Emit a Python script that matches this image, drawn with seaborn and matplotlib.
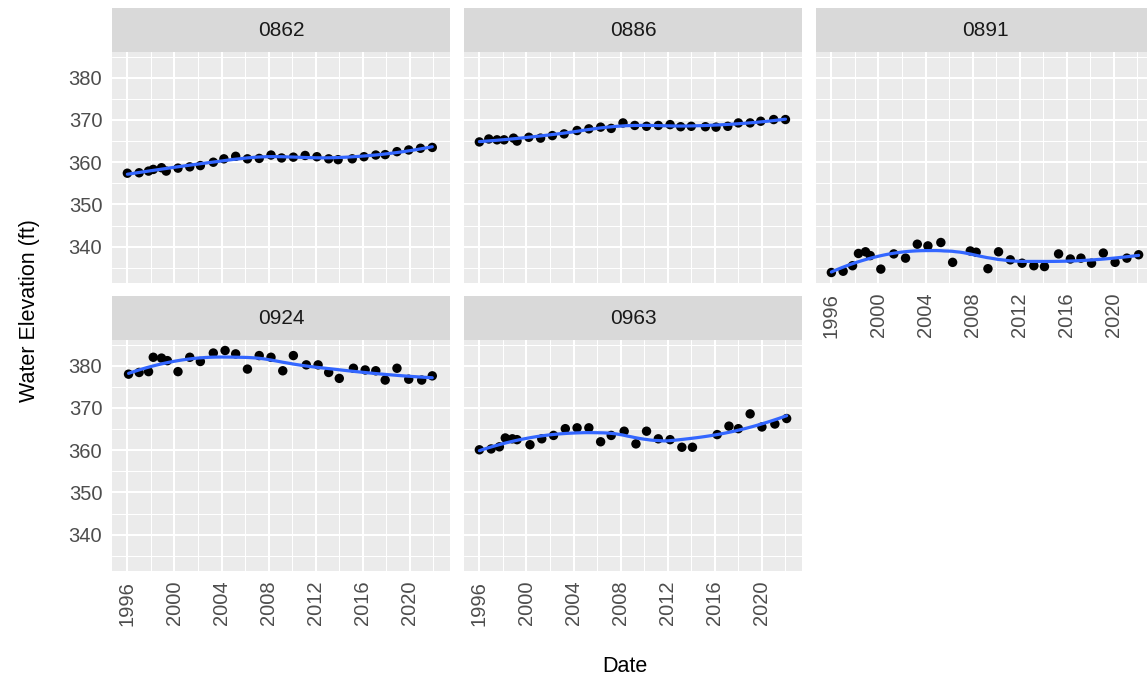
import numpy as np
import pandas as pd
import matplotlib
matplotlib.use("Agg")
import matplotlib.pyplot as plt
from matplotlib.patches import Rectangle
from matplotlib.ticker import FixedLocator
import seaborn as sns

# ---- measurements per well (decimal year, water elevation in ft) ----
wells = ["0862", "0886", "0891", "0924", "0963"]

year_0862 = [1996.0, 1997.0, 1997.8, 1998.2, 1998.9, 1999.3, 2000.3, 2001.3, 2002.2, 2003.3,
             2004.2, 2005.2, 2006.2, 2007.2, 2008.2, 2009.1, 2010.1, 2011.1, 2012.1, 2013.1,
             2013.9, 2015.1, 2016.1, 2017.1, 2017.9, 2018.9, 2019.9, 2020.9, 2021.9]
elev_0862 = [357.4, 357.5, 357.9, 358.3, 358.7, 357.9, 358.6, 358.9, 359.2, 360.0,
             360.8, 361.4, 360.8, 360.9, 361.7, 361.0, 361.2, 361.6, 361.3, 360.8,
             360.6, 360.8, 361.3, 361.7, 361.8, 362.5, 362.9, 363.3, 363.5]

year_0886 = [1996.0, 1996.8, 1997.5, 1998.1, 1998.9, 1999.2, 2000.2, 2001.2, 2002.2, 2003.2,
             2004.3, 2005.3, 2006.3, 2007.2, 2008.2, 2009.2, 2010.2, 2011.2, 2012.2, 2013.1,
             2014.0, 2015.2, 2016.1, 2017.1, 2018.0, 2019.0, 2019.9, 2021.0, 2022.0]
elev_0886 = [364.8, 365.5, 365.3, 365.3, 365.7, 365.0, 365.9, 365.7, 366.3, 366.7,
             367.5, 367.9, 368.3, 368.0, 369.3, 368.7, 368.5, 368.7, 368.9, 368.4,
             368.5, 368.4, 368.3, 368.5, 369.3, 369.3, 369.7, 370.1, 370.1]

year_0891 = [1996.0, 1997.0, 1997.8, 1998.3, 1998.9, 1999.3, 2000.2, 2001.3, 2002.3, 2003.3,
             2004.2, 2005.3, 2006.3, 2007.8, 2008.3, 2009.3, 2010.2, 2011.2, 2012.2, 2013.2,
             2014.1, 2015.3, 2016.3, 2017.2, 2018.1, 2019.1, 2020.1, 2021.1, 2022.1]
elev_0891 = [333.9, 334.2, 335.5, 338.4, 338.8, 337.9, 334.7, 338.3, 337.3, 340.6,
             340.2, 341.0, 336.3, 339.0, 338.7, 334.8, 338.8, 336.9, 336.1, 335.5,
             335.3, 338.3, 337.1, 337.3, 336.1, 338.5, 336.3, 337.3, 338.1]

year_0924 = [1996.1, 1997.0, 1997.8, 1998.2, 1998.9, 1999.4, 2000.3, 2001.3, 2002.2, 2003.3,
             2004.3, 2005.2, 2006.2, 2007.2, 2008.2, 2009.2, 2010.1, 2011.2, 2012.2, 2013.1,
             2014.0, 2015.2, 2016.2, 2017.1, 2017.9, 2018.9, 2019.9, 2021.0, 2021.9]
elev_0924 = [378.0, 378.4, 378.6, 382.0, 381.8, 381.2, 378.6, 382.0, 381.0, 383.0,
             383.6, 382.8, 379.2, 382.4, 382.0, 378.8, 382.4, 380.2, 380.2, 378.4,
             377.0, 379.4, 379.0, 378.8, 376.6, 379.4, 376.8, 376.6, 377.6]

year_0963 = [1996.0, 1997.0, 1997.7, 1998.2, 1998.8, 1999.2, 2000.3, 2001.3, 2002.3, 2003.3,
             2004.3, 2005.3, 2006.3, 2007.2, 2008.3, 2009.3, 2010.2, 2011.2, 2012.2, 2013.2,
             2014.1, 2016.2, 2017.2, 2018.0, 2019.0, 2020.0, 2021.1, 2022.1]
elev_0963 = [360.1, 360.3, 360.8, 362.9, 362.7, 362.5, 361.3, 362.7, 363.5, 365.1,
             365.3, 365.3, 362.0, 363.5, 364.5, 361.5, 364.5, 362.7, 362.5, 360.7,
             360.7, 363.7, 365.7, 365.1, 368.6, 365.5, 366.2, 367.5]

x_breaks = [1996, 2000, 2004, 2008, 2012, 2016, 2020]
y_breaks = [340, 350, 360, 370, 380]

years = {"0862": year_0862, "0886": year_0886, "0891": year_0891,
         "0924": year_0924, "0963": year_0963}
elevs = {"0862": elev_0862, "0886": elev_0886, "0891": elev_0891,
         "0924": elev_0924, "0963": elev_0963}

df = pd.concat([pd.DataFrame({"well": w, "Date": years[w], "Elevation": elevs[w]})
                for w in wells], ignore_index=True)


def loess(x, y, grid, span=0.75):
    """Local quadratic regression with tricube weights (R's loess defaults)."""
    x = np.asarray(x, float)
    y = np.asarray(y, float)
    q = int(np.floor(len(x) * span))
    out = np.empty(len(grid))
    for i, x0 in enumerate(grid):
        d = np.abs(x - x0)
        h = np.sort(d)[q - 1]
        w = np.clip(1 - (d / h) ** 3, 0, None) ** 3
        X = np.column_stack([np.ones_like(x), x - x0, (x - x0) ** 2])
        sw = np.sqrt(w)
        beta, *_ = np.linalg.lstsq(X * sw[:, None], y * sw, rcond=None)
        out[i] = beta[0]
    return out


# ---- theme ----
sns.set_theme(style="white")
plt.rcParams["font.family"] = ["Liberation Sans", "DejaVu Sans"]

W, H = 1147, 684
fig = plt.figure(figsize=(W / 100, H / 100), dpi=100)

panel_bg = "#EBEBEB"
strip_bg = "#D9D9D9"
tick_col = "#4D4D4D"

# panel boxes in pixels: left, top, right, bottom
boxes = {
    "0862": (112, 52, 450, 283),
    "0886": (464, 52, 802, 283),
    "0891": (816, 52, 1154, 283),
    "0924": (112, 340, 450, 571),
    "0963": (464, 340, 802, 571),
}
strip_h = 44
show_y = {"0862", "0924"}
show_x = {"0891", "0924", "0963"}

all_x = df["Date"]
xr = all_x.max() - all_x.min()
xlim = (all_x.min() - 0.05 * xr, all_x.max() + 0.05 * xr)
all_y = df["Elevation"]
yr = all_y.max() - all_y.min()
ylim = (all_y.min() - 0.05 * yr, all_y.max() + 0.05 * yr)

for w in wells:
    l, t, r, b = boxes[w]
    ax = fig.add_axes([l / W, 1 - b / H, (r - l) / W, (b - t) / H])
    ax.set_facecolor(panel_bg)
    for s in ax.spines.values():
        s.set_visible(False)

    sub = df[df["well"] == w]
    grid = np.linspace(sub["Date"].min(), sub["Date"].max(), 80)
    fit = pd.DataFrame({"Date": grid, "Elevation": loess(sub["Date"], sub["Elevation"], grid)})

    sns.scatterplot(data=sub, x="Date", y="Elevation", ax=ax, color="black",
                    s=46, edgecolor="none", zorder=3)
    sns.lineplot(data=fit, x="Date", y="Elevation", ax=ax, color="#3366FF",
                 linewidth=2.3, zorder=4)

    ax.set_xlim(xlim)
    ax.set_ylim(ylim)
    ax.xaxis.set_major_locator(FixedLocator(x_breaks))
    ax.yaxis.set_major_locator(FixedLocator(y_breaks))
    ax.xaxis.set_minor_locator(FixedLocator([b_ + 2 for b_ in x_breaks]))
    ax.yaxis.set_minor_locator(FixedLocator([b_ - 5 for b_ in y_breaks] + [385]))
    ax.set_axisbelow(True)
    ax.grid(which="major", color="white", linewidth=1.5)
    ax.grid(which="minor", color="white", linewidth=0.75)
    ax.tick_params(which="minor", length=0)
    ax.tick_params(which="major", length=4, width=1.1, color="#333333",
                   labelsize=14.5, labelcolor=tick_col, pad=3)
    ax.set_xlabel("")
    ax.set_ylabel("")

    if w in show_x:
        ax.set_xticklabels([str(v) for v in x_breaks], rotation=90, va="top", ha="center")
    else:
        ax.tick_params(axis="x", which="major", length=0, labelbottom=False)
    if w in show_y:
        ax.set_yticklabels([str(v) for v in y_breaks])
    else:
        ax.tick_params(axis="y", which="major", length=0, labelleft=False)

    # facet strip
    fig.patches.append(Rectangle(((l) / W, 1 - t / H), (r - l) / W, strip_h / H,
                                 transform=fig.transFigure, facecolor=strip_bg,
                                 edgecolor="none", zorder=0))
    fig.text(((l + min(r, W + 7)) / 2) / W, 1 - (t - strip_h / 2) / H, w,
             ha="center", va="center", fontsize=15, color="#1A1A1A")

fig.text(30 / W, 1 - 311 / H, "Water Elevation (ft)", rotation=90,
         ha="center", va="center", fontsize=15.5, color="black")
fig.text(625 / W, 1 - 666 / H, "Date", ha="center", va="center",
         fontsize=15.5, color="black")

fig.savefig("out.png", dpi=100, facecolor="white")
